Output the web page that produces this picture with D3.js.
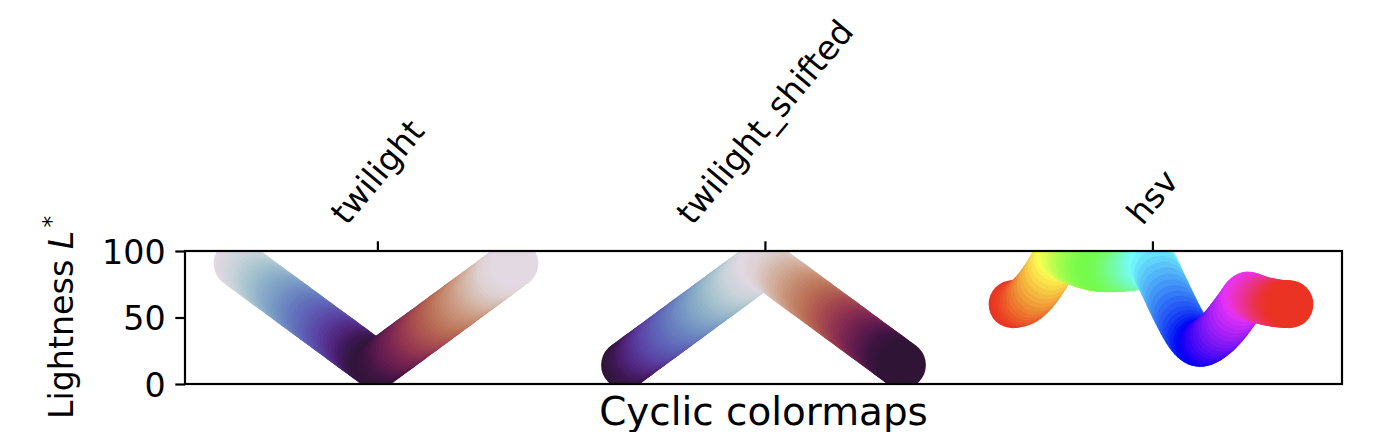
<!DOCTYPE html>
<html>
<head>
<meta charset="utf-8">
<script src="https://cdn.jsdelivr.net/npm/d3@7"></script>
<style>
  body { margin: 0; background: #ffffff; }
  text { font-family: "DejaVu Sans", sans-serif; fill: #000000; }
</style>
</head>
<body>
<div class="chart"></div>
<script>
// colormap names shown as tick labels on the top axis
var cmapNames = ["twilight", "twilight_shifted", "hsv"];

// lightness L*, 100 samples per colormap
var twilightL = [
  90.5, 89.0, 87.4, 85.9, 84.3, 82.8, 81.2, 79.7, 78.1, 76.6,
  75.0, 73.5, 72.0, 70.4, 68.9, 67.3, 65.8, 64.2, 62.7, 61.1,
  59.6, 58.0, 56.5, 55.0, 53.4, 51.9, 50.3, 48.8, 47.2, 45.7,
  44.1, 42.6, 41.0, 39.5, 38.0, 36.4, 34.9, 33.3, 31.8, 30.2,
  28.7, 27.1, 25.6, 24.0, 22.5, 21.0, 19.4, 17.9, 16.3, 14.8,
  14.8, 16.3, 17.9, 19.4, 21.0, 22.5, 24.0, 25.6, 27.1, 28.7,
  30.2, 31.8, 33.3, 34.9, 36.4, 38.0, 39.5, 41.0, 42.6, 44.1,
  45.7, 47.2, 48.8, 50.3, 51.9, 53.4, 55.0, 56.5, 58.0, 59.6,
  61.1, 62.7, 64.2, 65.8, 67.3, 68.9, 70.4, 72.0, 73.5, 75.0,
  76.6, 78.1, 79.7, 81.2, 82.8, 84.3, 85.9, 87.4, 89.0, 90.5
];

var twilightShiftedL = [
  14.3, 15.8, 17.4, 18.9, 20.5, 22.0, 23.6, 25.1, 26.7, 28.2,
  29.8, 31.3, 32.8, 34.4, 35.9, 37.5, 39.0, 40.6, 42.1, 43.7,
  45.2, 46.8, 48.3, 49.8, 51.4, 52.9, 54.5, 56.0, 57.6, 59.1,
  60.7, 62.2, 63.8, 65.3, 66.8, 68.4, 69.9, 71.5, 73.0, 74.6,
  76.1, 77.7, 79.2, 80.8, 82.3, 83.8, 85.4, 86.9, 88.5, 90.0,
  90.0, 88.5, 86.9, 85.4, 83.8, 82.3, 80.8, 79.2, 77.7, 76.1,
  74.6, 73.0, 71.5, 69.9, 68.4, 66.8, 65.3, 63.8, 62.2, 60.7,
  59.1, 57.6, 56.0, 54.5, 52.9, 51.4, 49.8, 48.3, 46.8, 45.2,
  43.7, 42.1, 40.6, 39.0, 37.5, 35.9, 34.4, 32.8, 31.3, 29.8,
  28.2, 26.7, 25.1, 23.6, 22.0, 20.5, 18.9, 17.4, 15.8, 14.3
];

var hsvL = [
  60.0, 60.2, 60.6, 61.2, 62.2, 63.5, 65.4, 67.5, 69.8, 72.4,
  75.4, 78.4, 81.5, 84.9, 88.5, 91.8, 94.9, 97.0, 96.3, 95.2,
  94.2, 93.3, 92.4, 91.6, 90.8, 90.1, 89.5, 88.9, 88.4, 88.0,
  87.6, 87.3, 87.1, 87.0, 87.0, 87.0, 87.0, 87.1, 87.2, 87.3,
  87.5, 87.7, 87.9, 88.2, 88.5, 88.9, 89.3, 89.7, 90.1, 90.5,
  90.8, 87.4, 82.9, 78.4, 74.0, 69.7, 65.0, 60.7, 56.4, 52.2,
  48.3, 44.4, 40.8, 37.6, 35.0, 32.9, 31.4, 30.8, 31.2, 32.0,
  33.2, 34.6, 36.2, 38.0, 40.0, 42.2, 44.6, 47.2, 50.0, 52.8,
  55.7, 58.5, 61.6, 64.6, 66.5, 66.2, 65.2, 64.5, 63.7, 63.1,
  62.5, 62.0, 61.6, 61.2, 60.9, 60.6, 60.4, 60.2, 60.1, 60.0
];

var yTicks = [0, 50, 100];

// Figure and axes box (pixels)
var svgWidth = 1374;
var svgHeight = 432;
var margin = { top: 251, right: 32, bottom: 48, left: 185 };
var width = svgWidth - margin.left - margin.right;
var height = svgHeight - margin.top - margin.bottom;

var dc = 1.4;       // horizontal spacing between colormaps
var dotR = 24;      // marker radius (s=300)
var fs = 33.3;      // tick / ylabel font size
var tickLen = 9.7;
var tickPad = 9.7;

// colormaps used to colour the dots
var twilightStops = [0, 0.06, 0.12, 0.19, 0.25, 0.31, 0.37, 0.42, 0.46, 0.5,
                     0.54, 0.58, 0.63, 0.68, 0.73, 0.78, 0.84, 0.9, 0.95, 1];
var twilightColors = ["#e2d9e2", "#c9d3da", "#a3c1cd", "#7fa2c6", "#6a83c0",
                      "#5e63b7", "#5a42a2", "#51267f", "#3e1856", "#2f1436",
                      "#3d1440", "#5a1a4c", "#7b2551", "#983a50", "#ad5550",
                      "#bb7258", "#c8937a", "#d4b6a7", "#ddd0d1", "#e2d9e2"];
var twilight = d3.scaleLinear()
    .domain(twilightStops)
    .range(twilightColors)
    .interpolate(d3.interpolateRgb);

var hsvR = d3.scaleLinear()
    .domain([0, 0.158730, 0.174603, 0.333333, 0.349206, 0.666667, 0.682540, 0.841270, 0.857143, 1])
    .range([1, 1, 0.96875, 0.03125, 0, 0, 0.03125, 0.96875, 1, 1]);
var hsvG = d3.scaleLinear()
    .domain([0, 0.158730, 0.174603, 0.507937, 0.666667, 0.682540, 1])
    .range([0, 0.9375, 1, 1, 0.0625, 0, 0]);
var hsvB = d3.scaleLinear()
    .domain([0, 0.333333, 0.349206, 0.507937, 0.841270, 0.857143, 1])
    .range([0, 0, 0.0625, 1, 1, 0.9375, 0]);

// the reference pixels are display-P3 encoded, so map the pure sRGB hsv colours the same way
function toLin(v) { return v <= 0.04045 ? v / 12.92 : Math.pow((v + 0.055) / 1.055, 2.4); }
function toEnc(v) { return v <= 0.0031308 ? 12.92 * v : 1.055 * Math.pow(v, 1 / 2.4) - 0.055; }
function srgbToP3(r, g, b) {
    var lr = toLin(r), lg = toLin(g), lb = toLin(b);
    var pr = 0.8225 * lr + 0.1774 * lg;
    var pg = 0.0332 * lr + 0.9669 * lg;
    var pb = 0.0171 * lr + 0.0724 * lg + 0.9108 * lb;
    return d3.rgb(toEnc(pr) * 255, toEnc(pg) * 255, toEnc(pb) * 255).toString();
}

var colorFns = {
    "twilight": function (t) { return twilight(t); },
    "twilight_shifted": function (t) { return twilight((((0.5 - t) % 1) + 1) % 1); },
    "hsv": function (t) { return srgbToP3(hsvR(t), hsvG(t), hsvB(t)); }
};

var lightness = {
    "twilight": twilightL,
    "twilight_shifted": twilightShiftedL,
    "hsv": hsvL
};

// sample positions 0..1 along each colormap
var samples = d3.range(100).map(function (i) { return i / 99; });

// Append SVG element
var svg = d3.select(".chart")
    .append("svg")
    .attr("width", svgWidth)
    .attr("height", svgHeight);

var chartGroup = svg.append("g")
    .attr("transform", `translate(${margin.left}, ${margin.top})`);

// scales: data span 0..3.8 with 5% margins, lightness 0..100
var xScale = d3.scaleLinear()
    .domain([-0.19, 3.99])
    .range([0, width]);

var yScale = d3.scaleLinear()
    .domain([0, 100])
    .range([height, 0]);

chartGroup.append("clipPath")
    .attr("id", "axclip")
    .append("rect")
    .attr("width", width)
    .attr("height", height);

var dotsGroup = chartGroup.append("g")
    .attr("clip-path", "url(#axclip)");

// one scatter per colormap, dots coloured along the colormap
cmapNames.forEach(function (name, j) {
    var pts = samples.map(function (t, i) {
        return { x: t + j * dc, y: lightness[name][i], c: colorFns[name](t) };
    });
    dotsGroup.append("g")
        .selectAll("circle")
        .data(pts)
        .enter()
        .append("circle")
        .attr("cx", d => xScale(d.x))
        .attr("cy", d => yScale(d.y))
        .attr("r", dotR)
        .attr("fill", d => d.c);
});

// y axis
var yAxis = d3.axisLeft(yScale)
    .tickValues(yTicks)
    .tickSize(tickLen)
    .tickPadding(tickPad);

var yAxisG = chartGroup.append("g").call(yAxis);
yAxisG.select(".domain").remove();
yAxisG.selectAll(".tick line").attr("stroke", "#000").attr("stroke-width", 2.2);
yAxisG.selectAll(".tick text")
    .attr("font-size", fs)
    .attr("font-family", "DejaVu Sans")
    .attr("dy", "0.36em");

// top axis with the colormap names
var locs = cmapNames.map(function (name, j) { return samples[50] + j * dc; });

var xAxis = d3.axisTop(xScale)
    .tickValues(locs)
    .tickSize(tickLen)
    .tickFormat("");

var xAxisG = chartGroup.append("g").call(xAxis);
xAxisG.select(".domain").remove();
xAxisG.selectAll(".tick line").attr("stroke", "#000").attr("stroke-width", 2.2);

// rotated (50 deg) labels, bbox bottom-centre sits above the tick
var labelGroup = chartGroup.append("g");
cmapNames.forEach(function (name, j) {
    var lbl = labelGroup.append("text")
        .attr("font-size", fs)
        .attr("text-anchor", "middle")
        .attr("y", 0.346 * fs)
        .text(name);
    var w = lbl.node().getComputedTextLength();
    var h = 1.164 * fs;
    var a = 50 * Math.PI / 180;
    var bh = w * Math.sin(a) + h * Math.cos(a);
    var cx = xScale(locs[j]);
    var cy = -tickLen - tickPad - bh / 2;
    lbl.attr("transform", `translate(${cx}, ${cy}) rotate(-50)`);
});

// spines
chartGroup.append("rect")
    .attr("width", width)
    .attr("height", height)
    .attr("fill", "none")
    .attr("stroke", "#000")
    .attr("stroke-width", 2.2);

// axis labels
var yLabel = svg.append("text")
    .attr("transform", `translate(73, ${margin.top + height / 2}) rotate(-90)`)
    .attr("text-anchor", "middle")
    .attr("font-size", fs);
yLabel.append("tspan").text("Lightness ");
yLabel.append("tspan").attr("font-style", "italic").text("L");
yLabel.append("tspan")
    .attr("font-size", fs * 0.7)
    .attr("dy", -fs * 0.42)
    .attr("dx", 3)
    .text("*");

svg.append("text")
    .attr("x", margin.left + width / 2)
    .attr("y", 424.5)
    .attr("text-anchor", "middle")
    .attr("font-size", 38.9)
    .text("Cyclic colormaps");
</script>
</body>
</html>
